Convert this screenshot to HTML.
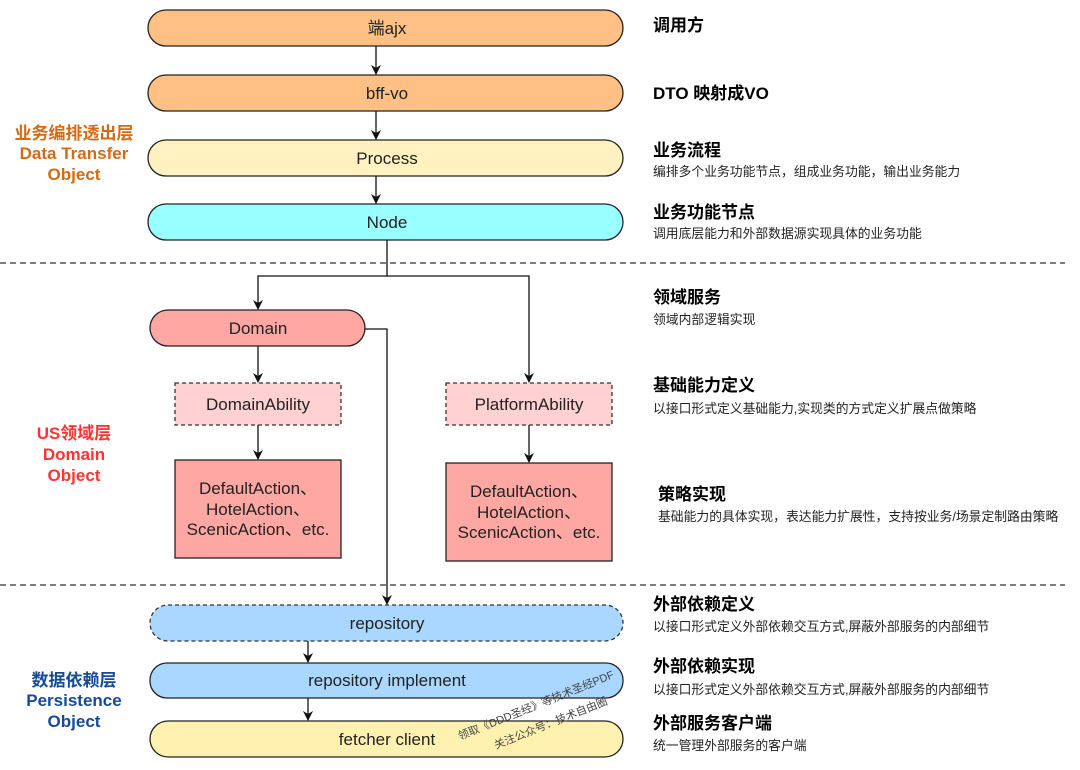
<!DOCTYPE html>
<html><head><meta charset="utf-8"><style>
html,body{margin:0;padding:0;background:#fff;}
svg{display:block;font-family:"Liberation Sans","Noto Sans CJK SC",sans-serif;}
.t{font-size:17px;font-weight:bold;fill:#000;}
.d{font-size:12.8px;fill:#222;}
.n{font-size:17px;fill:#222;text-anchor:middle;}
.l{font-size:17px;font-weight:bold;text-anchor:middle;}
</style></head><body>
<svg width="1080" height="770" viewBox="0 0 1080 770" xmlns="http://www.w3.org/2000/svg">
<defs><marker id="a" markerWidth="10" markerHeight="10" refX="9" refY="5" orient="auto" markerUnits="userSpaceOnUse"><path d="M0,0 L10,5 L0,10 L3,5 z" fill="#111"/></marker></defs>
<line x1="0" y1="263" x2="1065" y2="263" stroke="#333" stroke-dasharray="6,4" stroke-width="1.2"/>
<line x1="0" y1="585" x2="1065" y2="585" stroke="#333" stroke-dasharray="6,4" stroke-width="1.2"/>
<rect x="148" y="10" width="475" height="36" rx="18" fill="#ffc086" stroke="#222" stroke-width="1.3"/>
<text class="n" x="387" y="34">端ajx</text>
<rect x="148" y="75" width="475" height="36" rx="18" fill="#ffc086" stroke="#222" stroke-width="1.3"/>
<text class="n" x="387" y="99">bff-vo</text>
<rect x="148" y="140" width="475" height="36" rx="18" fill="#fff2c0" stroke="#222" stroke-width="1.3"/>
<text class="n" x="387" y="164">Process</text>
<rect x="148" y="204" width="475" height="36" rx="18" fill="#99ffff" stroke="#222" stroke-width="1.3"/>
<text class="n" x="387" y="228">Node</text>
<g stroke="#111" stroke-width="1.3" fill="none">
<line x1="376" y1="46" x2="376" y2="74" marker-end="url(#a)"/>
<line x1="376" y1="111" x2="376" y2="139" marker-end="url(#a)"/>
<line x1="376" y1="176" x2="376" y2="203" marker-end="url(#a)"/>
<polyline points="387,240 387,276 258,276 258,309" marker-end="url(#a)"/>
<polyline points="387,276 529,276 529,382" marker-end="url(#a)"/>
<polyline points="365,329 387,329 387,604" marker-end="url(#a)"/>
<line x1="258" y1="346" x2="258" y2="382" marker-end="url(#a)"/>
<line x1="258" y1="425" x2="258" y2="459" marker-end="url(#a)"/>
<line x1="529" y1="425" x2="529" y2="462" marker-end="url(#a)"/>
<line x1="308" y1="641" x2="308" y2="662" marker-end="url(#a)"/>
<line x1="308" y1="698" x2="308" y2="720" marker-end="url(#a)"/>
</g>
<rect x="150" y="310" width="215" height="36" rx="18" fill="#ffa8a3" stroke="#222" stroke-width="1.3"/>
<text class="n" x="258" y="334">Domain</text>
<rect x="175" y="383" width="166" height="42" fill="#ffd1d0" stroke="#333" stroke-width="1.3" stroke-dasharray="4,3"/>
<text class="n" x="258" y="410">DomainAbility</text>
<rect x="446" y="383" width="166" height="42" fill="#ffd1d0" stroke="#333" stroke-width="1.3" stroke-dasharray="4,3"/>
<text class="n" x="529" y="410">PlatformAbility</text>
<rect x="175" y="460" width="166" height="98" fill="#ffa8a3" stroke="#222" stroke-width="1.3"/>
<text class="n" x="258" y="494">DefaultAction、</text>
<text class="n" x="258" y="515">HotelAction、</text>
<text class="n" x="258" y="535">ScenicAction、etc.</text>
<rect x="446" y="463" width="166" height="98" fill="#ffa8a3" stroke="#222" stroke-width="1.3"/>
<text class="n" x="529" y="497">DefaultAction、</text>
<text class="n" x="529" y="518">HotelAction、</text>
<text class="n" x="529" y="538">ScenicAction、etc.</text>
<rect x="150" y="605" width="473" height="36" rx="18" fill="#a9d7ff" stroke="#333" stroke-width="1.3" stroke-dasharray="4,3"/>
<text class="n" x="387" y="629">repository</text>
<rect x="150" y="663" width="473" height="35" rx="17" fill="#a9d7ff" stroke="#222" stroke-width="1.3"/>
<text class="n" x="387" y="686">repository implement</text>
<rect x="150" y="721" width="473" height="36" rx="18" fill="#fff2b0" stroke="#222" stroke-width="1.3"/>
<text class="n" x="387" y="745">fetcher client</text>
<g transform="translate(460,740) rotate(-22)" font-size="11" fill="#444"><text x="0" y="0">领取《DDD圣经》等技术圣经PDF</text><text x="30" y="22">关注公众号：技术自由圈</text></g>
<text class="l" x="74" y="139" fill="#d46a14">业务编排透出层</text>
<text class="l" x="74" y="159" fill="#d46a14">Data Transfer</text>
<text class="l" x="74" y="180" fill="#d46a14">Object</text>
<text class="l" x="74" y="439" fill="#ff3333">US领域层</text>
<text class="l" x="74" y="460" fill="#ff3333">Domain</text>
<text class="l" x="74" y="481" fill="#ff3333">Object</text>
<text class="l" x="74" y="686" fill="#154a99">数据依赖层</text>
<text class="l" x="74" y="706" fill="#154a99">Persistence</text>
<text class="l" x="74" y="727" fill="#154a99">Object</text>
<text class="t" x="653" y="31">调用方</text>
<text class="t" x="653" y="99">DTO 映射成VO</text>
<text class="t" x="653" y="156">业务流程</text>
<text class="d" x="653" y="176">编排多个业务功能节点，组成业务功能，输出业务能力</text>
<text class="t" x="653" y="218">业务功能节点</text>
<text class="d" x="653" y="238">调用底层能力和外部数据源实现具体的业务功能</text>
<text class="t" x="653" y="303">领域服务</text>
<text class="d" x="653" y="324">领域内部逻辑实现</text>
<text class="t" x="653" y="391">基础能力定义</text>
<text class="d" x="653" y="413">以接口形式定义基础能力,实现类的方式定义扩展点做策略</text>
<text class="t" x="658" y="500">策略实现</text>
<text class="d" x="658" y="521">基础能力的具体实现，表达能力扩展性，支持按业务/场景定制路由策略</text>
<text class="t" x="653" y="610">外部依赖定义</text>
<text class="d" x="653" y="631">以接口形式定义外部依赖交互方式,屏蔽外部服务的内部细节</text>
<text class="t" x="653" y="672">外部依赖实现</text>
<text class="d" x="653" y="694">以接口形式定义外部依赖交互方式,屏蔽外部服务的内部细节</text>
<text class="t" x="653" y="729">外部服务客户端</text>
<text class="d" x="653" y="750">统一管理外部服务的客户端</text>
</svg>
</body></html>
